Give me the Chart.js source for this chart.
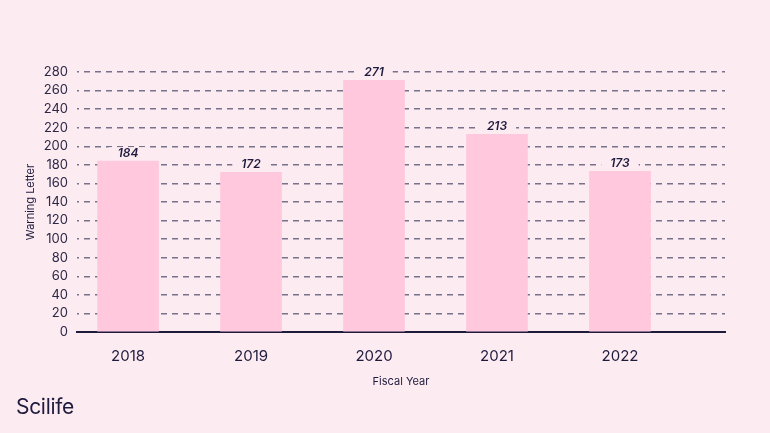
<!DOCTYPE html>
<html>
<head>
<meta charset="utf-8">
<script src="https://cdn.jsdelivr.net/npm/chart.js@4"></script>
<style>
  html, body { margin: 0; padding: 0; background: #fdebf2; }
  #wrap { position: relative; width: 770px; height: 433px; }
  #logo {
    position: absolute; left: 16px; top: 394px;
    font-family: Inter, "Noto Sans", sans-serif; font-size: 21px;
    color: #1e1b3d; letter-spacing: -0.3px;
  }
</style>
</head>
<body>
<div id="wrap">
  <canvas id="myChart" width="770" height="433"></canvas>
  <div id="logo">Scilife</div>
</div>
<script>
// Dữ liệu biểu đồ
const years = [2018, 2019, 2020, 2021, 2022];
const warningLetters = [184, 172, 271, 213, 173];
const yTicks = [0, 20, 40, 60, 80, 100, 120, 140, 160, 180, 200, 220, 240, 260, 280];

const bgColor = '#fdebf2';
const navy = '#1e1b3d';

// Vẽ nhãn giá trị trên cột, có nền để che lưới
const valueLabels = {
    id: 'valueLabels',
    afterDatasetsDraw(chart) {
        const ctx = chart.ctx;
        const meta = chart.getDatasetMeta(0);
        ctx.save();
        ctx.font = 'italic 600 12px Inter, sans-serif';
        ctx.textAlign = 'center';
        ctx.textBaseline = 'middle';
        meta.data.forEach((bar, i) => {
            const text = String(warningLetters[i]);
            const w = ctx.measureText(text).width + 18;
            const cy = bar.y - 8;
            ctx.fillStyle = bgColor;
            ctx.fillRect(bar.x - w / 2, cy - 6, w, 12);
            ctx.fillStyle = navy;
            ctx.fillText(text, bar.x, cy);
        });
        ctx.restore();
    }
};

const ctx = document.getElementById('myChart').getContext('2d');
const myChart = new Chart(ctx, {
    type: 'bar',
    data: {
        datasets: [{
            data: years.map((y, i) => ({ x: y, y: warningLetters[i] })),
            backgroundColor: '#ffc8dd',
            borderWidth: 0,
            barThickness: 61
        }]
    },
    options: {
        responsive: false,
        animation: false,
        layout: { padding: { left: 20, top: 72, right: 45, bottom: 41 } },
        plugins: { legend: { display: false }, tooltip: { enabled: false } },
        scales: {
            x: {
                type: 'linear',
                offset: false,
                min: 2017.585,
                max: 2022.854,
                afterFit(scale) { scale.height = 60; },
                afterBuildTicks(scale) { scale.ticks = years.map(v => ({ value: v })); },
                grid: { display: false, drawTicks: false, offset: false },
                border: { color: navy, width: 2 },
                ticks: {
                    autoSkip: false,
                    padding: 15,
                    color: navy,
                    font: { family: 'Inter', size: 15 },
                    callback: v => String(v)
                },
                title: {
                    display: true,
                    text: 'Fiscal Year',
                    color: navy,
                    font: { family: 'Inter', size: 11 }
                }
            },
            y: {
                min: 0,
                max: 280,
                afterFit(scale) { scale.width = 57; },
                afterBuildTicks(scale) { scale.ticks = yTicks.map(v => ({ value: v })); },
                grid: {
                    drawTicks: false,
                    color: c => c.tick && c.tick.value === 0 ? 'rgba(0,0,0,0)' : '#77728a',
                    lineWidth: 1.5
                },
                border: { display: false, dash: [6, 5], dashOffset: 4 },
                ticks: {
                    autoSkip: false,
                    padding: 9,
                    color: '#2b2845',
                    font: { family: 'Inter', size: 13 }
                },
                title: {
                    display: true,
                    text: 'Warning Letter',
                    color: navy,
                    font: { family: 'Inter', size: 11 }
                }
            }
        }
    },
    plugins: [valueLabels]
});
</script>
</body>
</html>
